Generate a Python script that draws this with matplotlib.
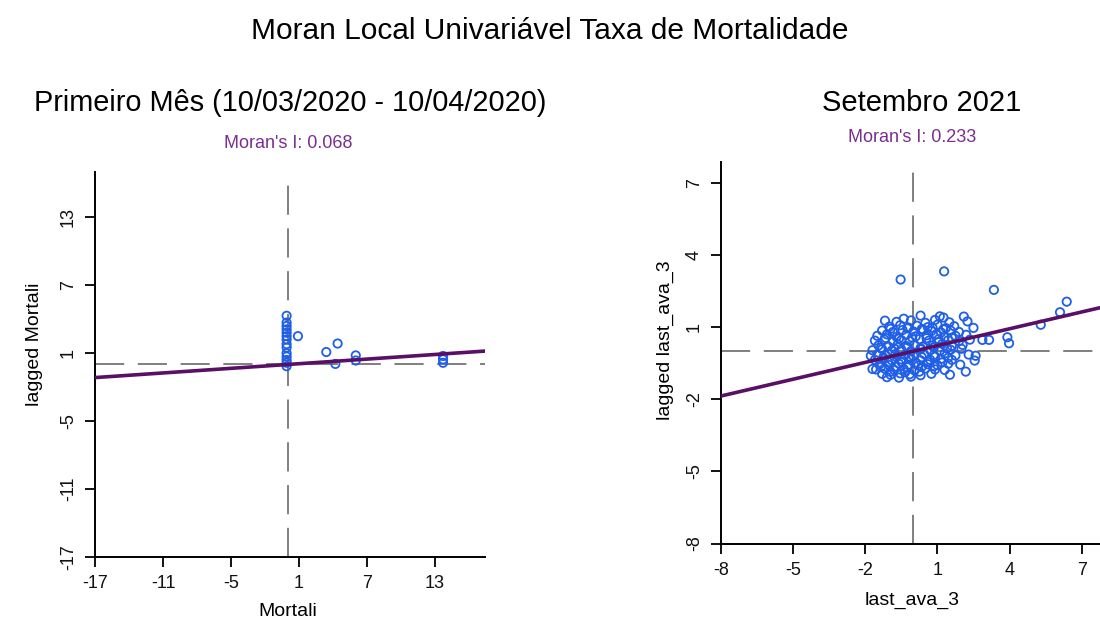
import matplotlib
matplotlib.use('Agg')
import matplotlib.pyplot as plt

plt.rcParams['font.family'] = ['Liberation Sans', 'DejaVu Sans']

# Primeiro mês: Mortali x lagged Mortali
mort_x = [-0.1, -0.1, -0.1, -0.1, -0.1, -0.1, -0.1, -0.1, -0.1, -0.1, -0.1, -0.1, -0.1, -0.1,
          0.9, 3.4, 4.4, 4.2, 6.0, 6.0, 13.7, 13.7, 13.7]
mort_y = [4.3, 3.7, 3.4, 3.1, 2.8, 2.5, 2.2, 1.8, 1.5, 1.0, 0.7, 0.4, 0.15, -0.15,
          2.5, 1.1, 1.85, 0.05, 0.8, 0.35, 0.75, 0.45, 0.15]
mort_I = 0.068

# Setembro 2021: last_ava_3 x lagged last_ava_3
ava_x = [
    -0.53, 1.28, 3.35, 6.38, 6.10, 5.30, 3.91, 3.98, 3.15, 2.87, 2.10, 2.25, 2.50,
    2.18, 1.52, 2.55, 2.59, -1.77, -1.70, -1.18,
    -0.40, 0.30, 1.10, 1.25,
    -0.70, -0.10, 0.50, 0.90, 1.50,
    -1.00, -0.55, -0.20, 0.15, 0.60, 1.00, 1.35, 1.70,
    -1.30, -0.85, -0.45, 0.00, 0.40, 0.75, 1.15, 1.55, 1.90,
    -1.50, -1.10, -0.70, -0.30, 0.10, 0.55, 0.95, 1.30, 1.75, 2.20,
    -1.60, -1.20, -0.85, -0.50, -0.15, 0.25, 0.65, 1.05, 1.45, 1.90, 2.35,
    -1.45, -1.05, -0.65, -0.30, 0.05, 0.40, 0.80, 1.20, 1.60, 2.05,
    -1.70, -1.30, -0.90, -0.50, -0.10, 0.30, 0.70, 1.10, 1.55, 2.00,
    -1.50, -1.15, -0.75, -0.35, 0.00, 0.45, 0.85, 1.30, 1.75, 2.30,
    -1.60, -1.25, -0.90, -0.50, -0.10, 0.30, 0.70, 1.15, 1.60,
    -1.40, -1.00, -0.60, -0.20, 0.20, 0.60, 1.00, 1.45, 1.95,
    -1.55, -1.20, -0.80, -0.40, 0.05, 0.50, 0.90, 1.30,
    -1.30, -0.95, -0.55, -0.15, 0.30, 0.75,
    -1.10, -0.60, -0.10,
    # denser core
    -0.95, -0.25, 0.35, 0.80, 1.25,
    -1.15, -0.60, -0.05, 0.55, 1.05, 1.60,
    -1.35, -0.80, -0.25, 0.30, 0.85, 1.40,
    -1.25, -0.70, -0.20, 0.35, 0.90, 1.45,
    -1.05, -0.50, 0.10, 0.60, 1.20,
    -1.35, -0.75, -0.25, 0.35, 0.85,
    -0.95, -0.35, 0.25,
]
ava_y = [
    2.98, 3.32, 2.55, 2.06, 1.62, 1.10, 0.58, 0.33, 0.47, 0.47, 1.44, 1.24, 0.97,
    -0.85, -0.98, -0.39, -0.19, -0.19, -0.74, 1.27,
    1.35, 1.48, 1.45, 1.40,
    1.22, 1.28, 1.18, 1.30, 1.20,
    1.02, 1.08, 0.98, 1.06, 1.00, 1.10, 0.96, 1.04,
    0.86, 0.80, 0.88, 0.82, 0.90, 0.84, 0.78, 0.86, 0.80,
    0.64, 0.70, 0.60, 0.68, 0.62, 0.66, 0.70, 0.58, 0.64, 0.68,
    0.44, 0.48, 0.40, 0.46, 0.42, 0.50, 0.44, 0.38, 0.46, 0.42, 0.48,
    0.24, 0.20, 0.28, 0.22, 0.26, 0.18, 0.24, 0.30, 0.22, 0.26,
    0.04, 0.08, 0.02, 0.06, 0.00, 0.08, 0.04, 0.02, 0.06, 0.10,
    -0.14, -0.18, -0.12, -0.16, -0.20, -0.12, -0.16, -0.10, -0.18, -0.14,
    -0.36, -0.32, -0.38, -0.34, -0.30, -0.38, -0.36, -0.32, -0.36,
    -0.54, -0.58, -0.52, -0.56, -0.60, -0.54, -0.58, -0.52, -0.56,
    -0.76, -0.72, -0.78, -0.74, -0.80, -0.72, -0.76, -0.78,
    -0.94, -0.98, -0.92, -0.96, -1.00, -0.94,
    -1.08, -1.10, -1.06,
    0.93, 0.95, 0.92, 0.97, 0.91,
    0.55, 0.52, 0.57, 0.54, 0.50, 0.56,
    0.14, 0.12, 0.16, 0.13, 0.15, 0.11,
    -0.26, -0.24, -0.28, -0.25, -0.23, -0.27,
    -0.46, -0.44, -0.48, -0.45, -0.47,
    -0.66, -0.64, -0.67, -0.65, -0.63,
    -0.86, -0.88, -0.85,
]
ava_I = 0.233

ticks_left = [-17, -11, -5, 1, 7, 13]
ticks_right = [-8, -5, -2, 1, 4, 7]

pt_color = '#1f5fe8'
line_color = '#5a0f66'
label_purple = '#7a2e8e'
dash_grey = '#7f7f7f'


def moran_panel(ax, x, y, slope, xlim, ylim, ticks):
    ax.axvline(0, color=dash_grey, lw=1.4, dashes=(15, 7), zorder=1)
    ax.axhline(0, color=dash_grey, lw=1.4, dashes=(15, 7), zorder=1)
    ax.scatter(x, y, s=36, facecolors='none', edgecolors=pt_color, linewidths=1.3, zorder=2)
    ax.plot(list(xlim), [slope * xlim[0], slope * xlim[1]], color=line_color, lw=2.6, zorder=3)
    ax.set_xlim(*xlim)
    ax.set_ylim(*ylim)
    ax.set_xticks(ticks)
    ax.set_yticks(ticks)
    ax.set_xticklabels([str(t) for t in ticks])
    ax.set_yticklabels([str(t) for t in ticks], rotation=90, va='center')
    ax.spines['top'].set_visible(False)
    ax.spines['right'].set_visible(False)
    for s in ('left', 'bottom'):
        ax.spines[s].set_linewidth(1.4)
    ax.tick_params(direction='out', length=7, width=1.4, labelsize=13, pad=6, colors='#111111')


fig = plt.figure(figsize=(11, 6.24), dpi=100)

ax1 = fig.add_axes([0.0864, 0.1074, 0.3545, 0.6170])
moran_panel(ax1, mort_x, mort_y, mort_I, (-17, 17.4), (-17, 17), ticks_left)

ax2 = fig.add_axes([0.6555, 0.1290, 0.3466, 0.6110])
moran_panel(ax2, ava_x, ava_y, ava_I, (-8, 7.86), (-8, 7.86), ticks_right)

fig.text(0.5, 1 - 31 / 624, 'Moran Local Univariável Taxa de Mortalidade',
         ha='center', va='center', fontsize=21.5)

fig.text(290 / 1100, 1 - 103 / 624, 'Primeiro Mês (10/03/2020 - 10/04/2020)',
         ha='center', va='center', fontsize=20.8)
fig.text(288 / 1100, 1 - 143 / 624, "Moran's I: %.3f" % mort_I,
         ha='center', va='center', fontsize=13, color=label_purple)
fig.text(35 / 1100, 1 - 344 / 624, 'lagged Mortali', rotation=90,
         ha='center', va='center', fontsize=14)
fig.text(288 / 1100, 1 - 612 / 624, 'Mortali', ha='center', va='center', fontsize=14)

fig.text(922 / 1100, 1 - 103 / 624, 'Setembro 2021',
         ha='center', va='center', fontsize=21)
fig.text(912 / 1100, 1 - 137 / 624, "Moran's I: %.3f" % ava_I,
         ha='center', va='center', fontsize=13, color=label_purple)
fig.text(665 / 1100, 1 - 340 / 624, 'lagged last_ava_3', rotation=90,
         ha='center', va='center', fontsize=14)
fig.text(912 / 1100, 1 - 600 / 624, 'last_ava_3', ha='center', va='center', fontsize=14)

fig.savefig('out.png', dpi=100)
